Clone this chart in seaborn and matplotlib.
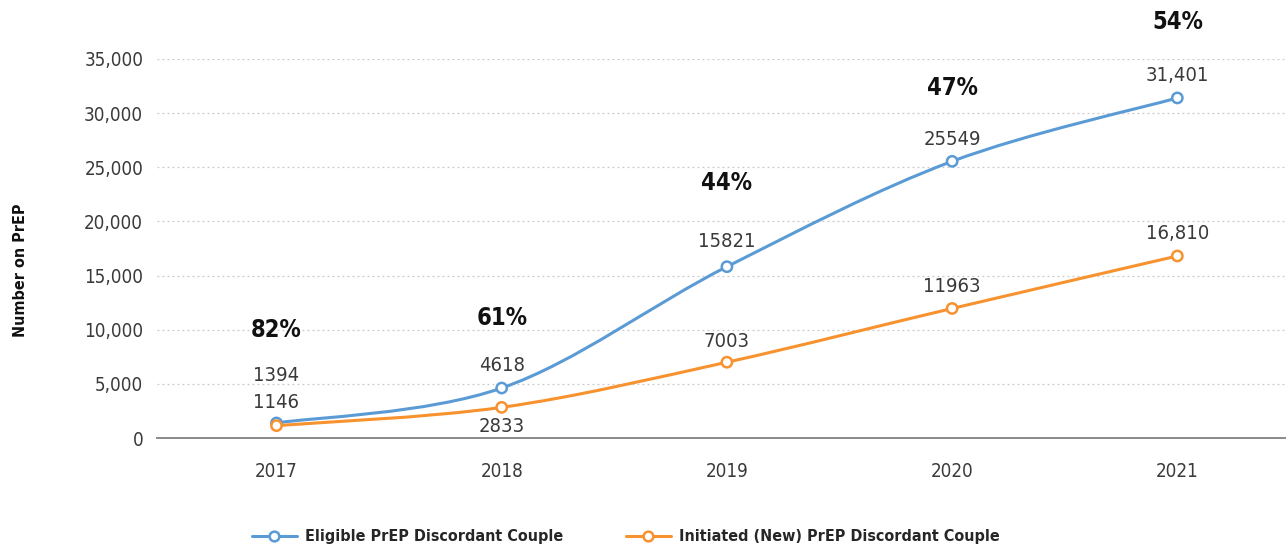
import matplotlib
matplotlib.use("Agg")
import matplotlib.pyplot as plt
from matplotlib.path import Path
from matplotlib.patches import PathPatch
from matplotlib.lines import Line2D
import seaborn as sns
import numpy as np
import pandas as pd

# -----------------------------
# Data
# -----------------------------
years = ["2017", "2018", "2019", "2020", "2021"]
eligible = [1394, 4618, 15821, 25549, 31401]
initiated = [1146, 2833, 7003, 11963, 16810]
eligible_labels = ["1394", "4618", "15821", "25549", "31,401"]
initiated_labels = ["1146", "2833", "7003", "11963", "16,810"]
pct_labels = ["82%", "61%", "44%", "47%", "54%"]
series_names = ["Eligible PrEP Discordant Couple", "Initiated (New) PrEP Discordant Couple"]

# layout only: where the percentage labels sit (data units) and label offsets (points)
pct_label_y = [9950, 11050, 23550, 32300, 38400]
eligible_off = [34, 16, 18, 16, 16]
initiated_off = [17, -14, 15, 16, 16]

blue = "#5B9BD5"
orange = "#F7922F"

sns.set_style("white")
plt.rcParams['font.family'] = ['DejaVu Sans']
plt.rcParams['font.stretch'] = 'condensed'

fig = plt.figure(figsize=(12.88, 5.51), dpi=100)
ax = fig.add_axes([0.122, 0.205, 0.876, 0.688])

x = np.arange(len(years))


def smooth_path(xs, ys):
    # Excel-style smoothed line: cubic bezier through the points
    pts = np.column_stack([xs, ys]).astype(float)
    verts = [pts[0]]
    codes = [Path.MOVETO]
    n = len(pts)
    for i in range(n - 1):
        p0 = pts[i - 1] if i > 0 else pts[i]
        p1 = pts[i]
        p2 = pts[i + 1]
        p3 = pts[i + 2] if i + 2 < n else pts[i + 1]
        c1 = p1 + (p2 - p0) / 6.0
        c2 = p2 - (p3 - p1) / 6.0
        verts += [c1, c2, p2]
        codes += [Path.CURVE4] * 3
    return Path(verts, codes)


for vals, col in [(eligible, blue), (initiated, orange)]:
    ax.add_patch(PathPatch(smooth_path(x, vals), facecolor="none", edgecolor=col,
                           lw=2.2, zorder=3, capstyle="round"))

df = pd.DataFrame({
    "x": np.concatenate([x, x]),
    "y": eligible + initiated,
    "series": [series_names[0]] * len(x) + [series_names[1]] * len(x),
})
sns.scatterplot(data=df, x="x", y="y", hue="series", palette=[blue, orange],
                s=55, marker="o", linewidth=1.8, ax=ax, zorder=4, legend=False)
# open circles: edge in series colour, white fill
coll = ax.collections[-1]
coll.set_edgecolors([blue] * len(x) + [orange] * len(x))
coll.set_facecolors("white")

# value labels
for i in range(len(x)):
    ax.annotate(eligible_labels[i], (x[i], eligible[i]), xytext=(0, eligible_off[i]),
                textcoords="offset points", ha="center", va="center",
                fontsize=14.5, color="#3a3a3a", zorder=5)
    ax.annotate(initiated_labels[i], (x[i], initiated[i]), xytext=(0, initiated_off[i]),
                textcoords="offset points", ha="center", va="center",
                fontsize=14.5, color="#3a3a3a", zorder=5)
    ax.text(x[i], pct_label_y[i], pct_labels[i], ha="center", va="center",
            fontsize=17, fontweight="bold", color="#111111", clip_on=False)

# axes styling
ax.set_xlim(-0.53, 4.48)
ax.set_ylim(0, 35000)
ax.set_yticks(np.arange(0, 35001, 5000))
ax.set_yticklabels([f"{v:,}" for v in range(0, 35001, 5000)])
ax.set_xticks(x)
ax.set_xticklabels(years)
ax.tick_params(axis="both", length=0, labelsize=13.5, labelcolor="#3a3a3a")
ax.tick_params(axis="x", pad=17)
ax.tick_params(axis="y", pad=10)
ax.grid(axis="y", color="#c8c8c8", linestyle=(0, (1.5, 2.5)), linewidth=0.9)
ax.grid(axis="x", visible=False)
for side in ["left", "right", "top"]:
    ax.spines[side].set_visible(False)
ax.spines["bottom"].set_color("#8a8a8a")
ax.spines["bottom"].set_linewidth(1.4)
ax.set_xlabel("")
ax.set_ylabel("")

fig.text(0.016, 1 - 270 / 551, "Number on PrEP", rotation=90, ha="center", va="center",
         fontsize=11.5, fontweight="bold", color="#111111")

# legend
handles = [
    Line2D([0], [0], color=col, lw=2.2, marker="o", markersize=7,
           markerfacecolor="white", markeredgewidth=1.8, markeredgecolor=col)
    for col in [blue, orange]
]
leg = fig.legend(handles, series_names, loc="center", bbox_to_anchor=(0.486, 1 - 537 / 551),
                 ncol=2, frameon=False, handlelength=2.8, columnspacing=3.9,
                 handletextpad=0.55, prop={"size": 11.5, "weight": "bold"})

fig.savefig("out.png", dpi=100)
